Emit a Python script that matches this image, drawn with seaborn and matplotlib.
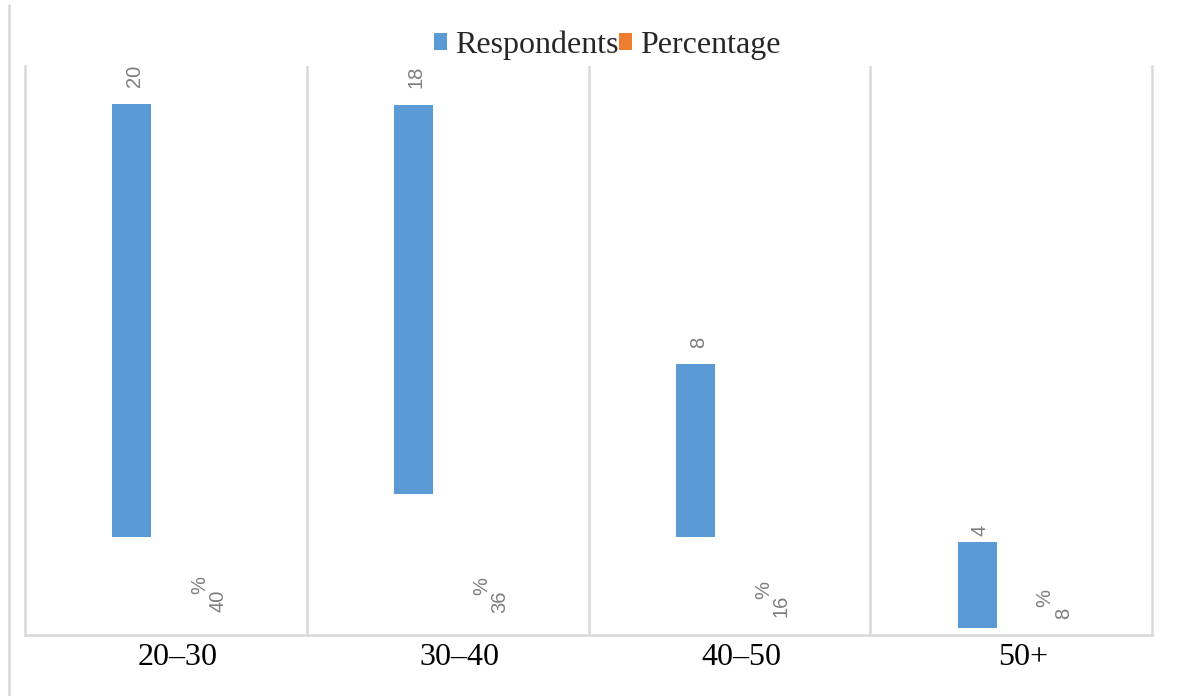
import numpy as np
import pandas as pd
import matplotlib
matplotlib.use("Agg")
import matplotlib.pyplot as plt
import matplotlib.transforms as mtransforms
import seaborn as sns
from matplotlib.lines import Line2D

ages = ["20–30", "30–40", "40–50", "50+"]
respondents = [20, 18, 8, 4]
percentage = [40, 36, 16, 8]
# the blue bars float in the source picture, these are their bases
resp_base = [4.54, 6.52, 4.54, 0.31]

df = pd.concat([
    pd.DataFrame({"Age": ages, "value": respondents, "Series": "Respondents"}),
    pd.DataFrame({"Age": ages, "value": [p / 100 for p in percentage], "Series": "Percentage"}),
])

sns.set_theme(style="white")
plt.rcParams["font.family"] = ["Liberation Serif", "DejaVu Serif"]

grey = "#D9D9D9"
lab_col = "#7F7F7F"

fig = plt.figure(figsize=(11.86, 6.96), dpi=100)
ax = fig.add_axes([25 / 1186, 1 - 635 / 696, 1127 / 1186, 569 / 696])

sns.barplot(data=df, x="Age", y="value", hue="Series", order=ages,
            hue_order=["Respondents", "Percentage"],
            palette={"Respondents": "#5B9BD5", "Percentage": "#ED7D31"},
            width=0.482, gap=0.426, saturation=1, errorbar=None,
            linewidth=0, ax=ax)

resp_bars, pct_bars = ax.containers[0], ax.containers[1]
for bar, b in zip(resp_bars, resp_base):
    bar.set_y(b)
# orange bars don't show in the source
for bar in pct_bars:
    bar.set_alpha(0)

lab_pad = [12, 12, 11, 4]
for bar, v, pd_ in zip(resp_bars, respondents, lab_pad):
    x = bar.get_x() + bar.get_width() / 2
    y = bar.get_y() + bar.get_height()
    ax.annotate(str(v), (x, y), xytext=(2, pd_), textcoords="offset points",
                rotation=90, ha="center", va="bottom", color=lab_col,
                fontsize=14.5, family="Liberation Sans")

for bar, v in zip(pct_bars, percentage):
    x = bar.get_x() + bar.get_width() / 2
    y = bar.get_y() + bar.get_height()
    s = str(v)
    ax.annotate(s, (x, y), xytext=(13, 10.4), textcoords="offset points",
                rotation=90, ha="center", va="bottom", color=lab_col,
                fontsize=14.5, family="Liberation Sans")
    ax.annotate("%", (x, y), xytext=(0, 10.4 + len(s) * 4.0 + 11.2),
                textcoords="offset points", rotation=90, ha="center",
                va="center", color=lab_col, fontsize=14.5, family="Liberation Sans")

ax.set_xlim(-0.5, 3.5)
ax.set_ylim(0, 26.3)
ax.set_xlabel("")
ax.set_ylabel("")
ax.set_yticks([])
ax.tick_params(axis="x", length=0, pad=6, labelsize=23, colors="black")
shift = mtransforms.ScaledTranslation(12 / 100, 0, fig.dpi_scale_trans)
for lbl in ax.get_xticklabels():
    lbl.set_transform(lbl.get_transform() + shift)
for sp in ["bottom", "left", "right"]:
    ax.spines[sp].set_color(grey)
    ax.spines[sp].set_linewidth(1.8)
ax.spines["top"].set_visible(False)
for xb in [0.5, 1.5, 2.5]:
    ax.axvline(xb, color=grey, lw=1.8, zorder=0)

sns.move_legend(ax, "center", bbox_to_anchor=(0.512, 0.935),
                bbox_transform=fig.transFigure, ncol=2, frameon=False,
                title=None, fontsize=23, handlelength=0.42, handleheight=0.42,
                handletextpad=0.25, columnspacing=0.0, borderpad=0)

fig.add_artist(Line2D([8.5 / 1186, 8.5 / 1186], [0, 1 - 5 / 696],
                      transform=fig.transFigure, color=grey, lw=1.8))

fig.savefig("out.png", dpi=100)
